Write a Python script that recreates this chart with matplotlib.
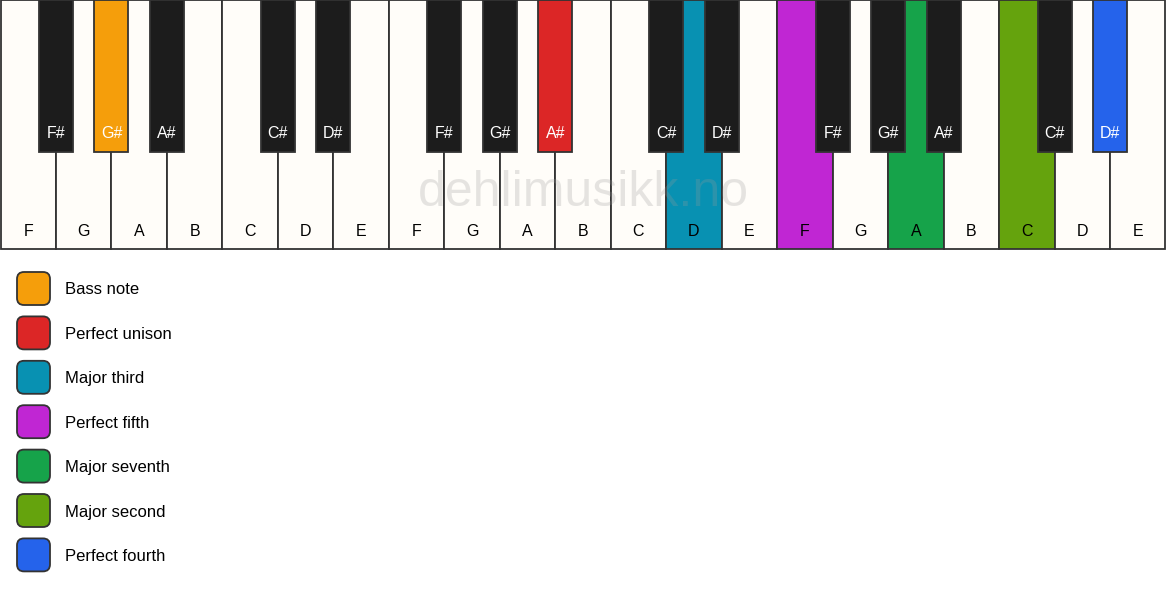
import matplotlib.pyplot as plt
from matplotlib.patches import Rectangle, FancyBboxPatch

plt.rcParams['font.family'] = ['Liberation Sans', 'DejaVu Sans']

# keyboard data
white_keys = ['F', 'G', 'A', 'B', 'C', 'D', 'E'] * 3
# black keys sit to the right of these white keys
black_after = {'F': 'F#', 'G': 'G#', 'A': 'A#', 'C': 'C#', 'D': 'D#'}

# highlighted keys: (octave index, note) -> colour ; octave counter steps at each C
highlights = {
    (0, 'G#'): '#F59E0B',
    (1, 'A#'): '#DC2626',
    (2, 'D'): '#0891B2',
    (2, 'F'): '#C026D3',
    (2, 'A'): '#16A34A',
    (3, 'C'): '#65A30D',
    (3, 'D#'): '#2563EB',
}

legend_labels = ['Bass note', 'Perfect unison', 'Major third', 'Perfect fifth',
                 'Major seventh', 'Major second', 'Perfect fourth']
legend_colors = ['#F59E0B', '#DC2626', '#0891B2', '#C026D3',
                 '#16A34A', '#65A30D', '#2563EB']

WHITE = '#FFFDF9'
BLACK = '#1C1C1C'
EDGE = '#333333'

fig = plt.figure(figsize=(11.67, 5.94), dpi=100)
ax = fig.add_axes([0, 0, 1, 1])
ax.set_xlim(0, 1167)
ax.set_ylim(594, 0)
ax.axis('off')

W = 1165 / len(white_keys)
x0 = 0.5
H = 249
BW = 34
BH = 152


def octave_of(i):
    return sum(1 for k in white_keys[:i + 1] if k == 'C')


# white keys
for i, note in enumerate(white_keys):
    col = highlights.get((octave_of(i), note), WHITE)
    ax.add_patch(Rectangle((x0 + i * W, 0), W, H, facecolor=col,
                           edgecolor=EDGE, lw=1.3, zorder=1))
    ax.text(x0 + (i + 0.5) * W, 231, note, ha='center', va='center',
            fontsize=11.5, color='black', zorder=4)

# black keys
for i, note in enumerate(white_keys):
    if note not in black_after:
        continue
    bnote = black_after[note]
    col = highlights.get((octave_of(i), bnote), BLACK)
    cx = x0 + (i + 1) * W
    ax.add_patch(Rectangle((cx - BW / 2, 0), BW, BH, facecolor=col,
                           edgecolor=EDGE, lw=1.3, zorder=2))
    ax.text(cx, 134, bnote, ha='center', va='center', fontsize=11.5,
            color='white', zorder=4)

# watermark
ax.text(583, 193, 'dehlimusikk.no', ha='center', va='center', fontsize=36,
        color='#999999', alpha=0.25, zorder=5)

# legend
for j, (lab, col) in enumerate(zip(legend_labels, legend_colors)):
    y = 272 + j * 44.4
    ax.add_patch(FancyBboxPatch((17, y), 33, 33,
                                boxstyle='round,pad=0,rounding_size=7',
                                facecolor=col, edgecolor=EDGE, lw=1.3))
    ax.text(65, y + 18, lab, ha='left', va='center', fontsize=12,
            color='black')

fig.savefig('out.png', dpi=100, facecolor='white')
